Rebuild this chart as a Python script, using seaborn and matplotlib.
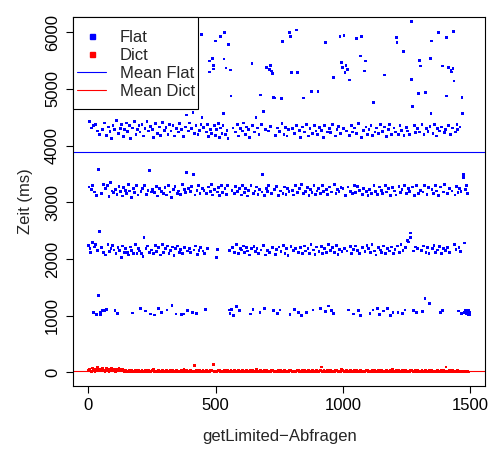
import numpy as np
import pandas as pd
import matplotlib
matplotlib.use("Agg")
import matplotlib.pyplot as plt
import seaborn as sns
from matplotlib.lines import Line2D
from matplotlib.patches import Rectangle

# Flat: one reading for every 2nd query (query 1, 3, 5, ...), ms
flat_ms = [
    2240, 3270, 4430, 2180, 2110, 3220, 4310, 2290, 3300, 4350, 1062, 2210, 3180, 4380, 2250, 3120, 1021, 4260, 2150, 3574, 1356, 2480, 4190, 1062, 1021,
    3150, 2200, 1092, 4280, 3310, 2120, 4400, 1092, 3240, 2070, 4180, 1109, 3290, 2260, 4330, 3100, 2130, 4250, 3350, 2190, 4120, 3200, 2240, 4360, 3170,
    2160, 4290, 1085, 3230, 2090, 4440, 3140, 1040, 2200, 4220, 3280, 2150, 4300, 3190, 2030, 4370, 3110, 2230, 4160, 3260, 2110, 4280, 3210, 2180, 4400,
    3150, 2120, 4250, 3320, 2070, 4350, 3200, 2210, 4130, 3080, 2150, 4310, 1045, 3240, 2100, 4420, 3170, 2260, 4200, 3290, 2090, 4280, 3130, 2180, 4360,
    2140, 4240, 1120, 3190, 2100, 4380, 3250, 2050, 4170, 2380, 3300, 4300, 1080, 2190, 3140, 4420, 2230, 3210, 4260, 2120, 3556, 1030, 4340, 3180, 2160,
    4290, 3230, 2090, 4150, 1010, 3170, 2240, 4390, 3280, 2130, 4220, 3110, 1120, 2200, 4330, 3250, 2070, 4180, 3190, 1060, 2260, 4410, 3150, 2120, 4270,
    3260, 2180, 4320, 3130, 1100, 2230, 4200, 3300, 2100, 4380, 3180, 2150, 4260, 3090, 1180, 2210, 4350, 3220, 2060, 4170, 3280, 2190, 1030, 4300, 3160,
    2230, 4240, 3200, 2120, 4390, 3140, 2170, 1020, 4280, 3310, 2090, 4160, 1030, 3230, 2200, 4330, 3170, 4542, 3526, 1090, 2140, 4260, 3250, 2180, 4400,
    3190, 2110, 4300, 3280, 1060, 4583, 3486, 2160, 4220, 3130, 2230, 4350, 1040, 3210, 2080, 4190, 3290, 2150, 4270, 3160, 2200, 4380, 5963, 4495, 3240,
    2140, 4320, 3210, 2090, 1100, 1110, 4240, 3150, 2180, 4380, 3270, 4160, 5493, 5300, 3190, 4290, 3310, 4210, 3130, 5533, 5352, 5420, 4350, 3230, 4180,
    5845, 4280, 2030, 3180, 2170, 4390, 3260, 4150, 3120, 4310, 5921, 3300, 4220, 3170, 4360, 4572, 5528, 5991, 3240, 4190, 5370, 3140, 4270, 3290, 4120,
    5787, 1100, 2150, 1040, 5335, 4877, 1110, 3210, 2200, 4310, 1000, 3150, 2120, 4240, 3280, 2250, 1160, 4380, 3190, 2090, 4170, 3250, 1090, 2180, 4300,
    3130, 2160, 4260, 3300, 2230, 4400, 3170, 2110, 4190, 3240, 2200, 4330, 3110, 2140, 4280, 3210, 2070, 4150, 1030, 3290, 2180, 5445, 4360, 1110, 3160,
    2220, 4240, 3200, 2130, 4495, 3270, 2190, 4310, 3140, 2100, 4200, 3230, 1060, 4894, 2160, 4370, 3180, 3486, 4600, 2240, 1120, 3120, 4290, 2070, 3250,
    5375, 3190, 2150, 4260, 3300, 5340, 2110, 5420, 4340, 3150, 5317, 2200, 5270, 1090, 4847, 3230, 4842, 2080, 4180, 3280, 2170, 1040, 4310, 3120, 2210,
    4250, 1100, 3200, 2130, 4830, 4390, 5833, 3160, 2240, 4200, 3270, 2100, 4320, 3140, 2190, 4170, 3250, 2060, 4280, 3190, 5990, 1020, 5920, 2220, 5290,
    3210, 4300, 2150, 3130, 1110, 4220, 3290, 2180, 4360, 6039, 3170, 5290, 1050, 2120, 4270, 3240, 2200, 4150, 3310, 1000, 2090, 4330, 3150, 4842, 2230,
    4240, 3190, 2140, 4380, 1060, 3260, 2190, 4170, 3120, 2100, 4300, 3230, 2250, 4950, 3170, 4210, 1100, 2160, 3290, 4350, 2080, 3140, 4260, 2210, 3200,
    4190, 4950, 3250, 2130, 4320, 1130, 3160, 2220, 4270, 3300, 2090, 4150, 3190, 2180, 4360, 1070, 5815, 3230, 2120, 4240, 3140, 2260, 1170, 4300, 3270,
    2150, 4230, 1090, 3180, 2200, 4380, 5200, 1040, 3310, 2110, 4170, 3150, 2240, 4290, 3220, 2080, 4340, 3190, 2170, 5921, 4210, 3260, 5463, 2130, 5380,
    3240, 4300, 5940, 2190, 5290, 3120, 5420, 4260, 2140, 5350, 3270, 1100, 5158, 4180, 2220, 3190, 4350, 2100, 3150, 4240, 1030, 2170, 3300, 4310, 2230,
    3170, 4220, 5890, 2150, 3280, 1090, 4390, 2090, 3210, 1000, 5581, 4150, 5921, 3140, 2200, 4270, 3250, 5317, 2130, 5493, 4330, 3190, 2240, 4200, 3120,
    2180, 4290, 3230, 1040, 2110, 4360, 3160, 2250, 4180, 1100, 4759, 3300, 2140, 4240, 3190, 2070, 4310, 1130, 3140, 2200, 4220, 3270, 1020, 2160, 4380,
    3210, 2120, 4250, 3150, 1080, 2230, 4330, 5246, 3290, 2100, 4160, 3180, 1120, 2190, 4280, 3240, 2140, 4370, 3120, 1000, 2210, 4200, 3260, 1060, 2090,
    4310, 3200, 2170, 4240, 3130, 5904, 5815, 2230, 1060, 4190, 3280, 2120, 4350, 3170, 2260, 4270, 3220, 1040, 2150, 5657, 4180, 3300, 1100, 2200, 4320,
    3150, 4260, 2330, 3240, 2300, 4200, 3190, 2380, 2459, 6185, 5163, 4689, 3270, 1090, 2140, 4350, 3120, 2210, 4230, 3300, 1050, 2180, 4300, 3160, 4918,
    4240, 5505, 5405, 3210, 2150, 4370, 1070, 3180, 2230, 4190, 3290, 1308, 4935, 2120, 4300, 3140, 2200, 4250, 3260, 2100, 1220, 4340, 5533, 4565, 5845,
    3230, 2180, 4210, 3150, 2240, 4380, 3290, 2110, 4170, 3200, 2160, 4300, 5991, 3120, 2220, 4260, 1060, 3270, 2090, 4330, 5405, 1090, 3180, 2190, 4230,
    3310, 4280, 2150, 5904, 4877, 3160, 2200, 4350, 5380, 3240, 2120, 4190, 5330, 5300, 3200, 4310, 5360, 6009, 5141, 2250, 3130, 4240, 2170, 3280, 4380,
    4290, 3170, 1080, 2200, 3250, 4330, 2130, 3190, 1040, 4847, 4565, 3440, 3486, 2280, 1060, 3220, 1100, 3300, 1030, 3150, 1070, 1010, 1090, 1050, 1020,
]
flat_step = 2

# Dict: one reading for every 5th query, ms
dict_ms = [
    35, 60, 20, 75, 45, 15, 55, 80, 30, 50, 25, 70, 40, 10, 65, 55, 20, 45, 75, 30, 60, 15, 50, 35, 70, 25, 45, 60, 20, 40,
    20, 10, 25, 15, 30, 5, 20, 35, 10, 25, 15, 20, 40, 10, 5, 25, 15, 30, 20, 10, 25, 45, 15, 20, 5, 30, 10, 20, 25, 15,
    10, 25, 20, 5, 30, 15, 35, 20, 10, 25, 15, 5, 20, 30, 10, 45, 15, 25, 20, 10, 30, 15, 20, 123, 10, 25, 15, 35, 20, 5,
    25, 15, 10, 30, 20, 5, 25, 40, 135, 15, 20, 10, 30, 25, 15, 5, 20, 35, 10, 25, 15, 20, 30, 10, 5, 25, 20, 15, 40, 10,
    20, 30, 15, 10, 25, 5, 20, 35, 15, 25, 10, 20, 45, 15, 5, 30, 20, 10, 25, 15, 35, 20, 10, 5, 25, 30, 15, 20, 10, 40,
    15, 25, 20, 10, 30, 5, 20, 15, 25, 35, 10, 20, 15, 5, 30, 25, 10, 20, 40, 15, 25, 10, 20, 30, 5, 15, 25, 20, 10, 35,
    20, 10, 25, 94, 15, 30, 5, 20, 25, 10, 35, 15, 20, 5, 30, 25, 10, 20, 15, 45, 25, 10, 20, 30, 15, 5, 25, 20, 10, 35,
    15, 25, 10, 20, 30, 5, 20, 15, 40, 25, 10, 20, 15, 30, 5, 25, 20, 10, 35, 15, 25, 20, 10, 5, 30, 15, 20, 25, 10, 45,
    20, 10, 25, 15, 30, 5, 20, 35, 10, 25, 15, 20, 5, 30, 25, 10, 20, 40, 15, 25, 10, 20, 30, 15, 5, 25, 20, 10, 35, 15,
    25, 10, 20, 15, 30, 5, 20, 25, 10, 35, 15, 94, 20, 10, 25, 5, 30, 15, 20, 10, 25, 15, 5, 20, 10, 15, 5, 10, 15, 5,
]
dict_step = 5

# mean lines
mean_flat = 3890
mean_dict = 20

x_ticks = [0, 500, 1000, 1500]
y_ticks = [0, 1000, 2000, 3000, 4000, 5000, 6000]
legend_labels = ["Flat", "Dict", "Mean Flat", "Mean Dict"]

flat_query = np.arange(len(flat_ms)) * flat_step + 1
dict_query = np.arange(len(dict_ms)) * dict_step + 1

df = pd.concat([
    pd.DataFrame({"query": flat_query, "ms": flat_ms, "series": "Flat"}),
    pd.DataFrame({"query": dict_query, "ms": dict_ms, "series": "Dict"}),
], ignore_index=True)

sns.set_style("ticks")
plt.rcParams["font.family"] = ["Liberation Sans", "DejaVu Sans"]

W, H = 494, 449
fig = plt.figure(figsize=(W / 100, H / 100), dpi=100)
ax = fig.add_axes([73.3 / W, 1 - 385.9 / H, (485 - 73.3) / W, (385.9 - 17.3) / H])

sns.scatterplot(data=df, x="query", y="ms", hue="series",
                palette={"Flat": "#0000ff", "Dict": "#ff0000"},
                marker="s", s=4, linewidth=0, legend=False, ax=ax)
ax.axhline(mean_flat, color="#0000ff", lw=0.8)
ax.axhline(mean_dict, color="#ff0000", lw=0.8)

ax.set_xlim(-59, 1559)
ax.set_ylim(-240, 6265)
ax.set_xticks(x_ticks)
ax.set_yticks(y_ticks)
ax.tick_params(direction="out", length=5, width=0.8, labelsize=12, colors="black")
ax.tick_params(axis="x", pad=4)
ax.tick_params(axis="y", pad=4.5, labelrotation=90)
for lbl in ax.get_yticklabels():
    lbl.set_va("center")
for sp in ax.spines.values():
    sp.set_linewidth(0.8)
    sp.set_color("black")
ax.set_xlabel("getLimited\u2212Abfragen", fontsize=12, labelpad=11)
ax.set_ylabel("Zeit (ms)", fontsize=12, labelpad=9)

# legend box, drawn by hand so padding matches
ax.add_patch(Rectangle((0, 1 - 92 / 368.6), 124.4 / 411.7, 92 / 368.6,
                       transform=ax.transAxes, facecolor="white",
                       edgecolor="black", lw=0.8, zorder=4, clip_on=False))
handles = [
    Line2D([], [], marker="s", color="#0000ff", ls="none", markersize=3.6),
    Line2D([], [], marker="s", color="#ff0000", ls="none", markersize=3.6),
    Line2D([], [], color="#0000ff", lw=0.8),
    Line2D([], [], color="#ff0000", lw=0.8),
]
leg = ax.legend(handles, legend_labels, loc="upper left",
                bbox_to_anchor=(0.009, 0.965), frameon=False, borderpad=0,
                borderaxespad=0, fontsize=12, handlelength=1.75,
                handletextpad=0.8, labelspacing=0.18)
leg.set_zorder(5)

fig.savefig("out.png", dpi=100)
